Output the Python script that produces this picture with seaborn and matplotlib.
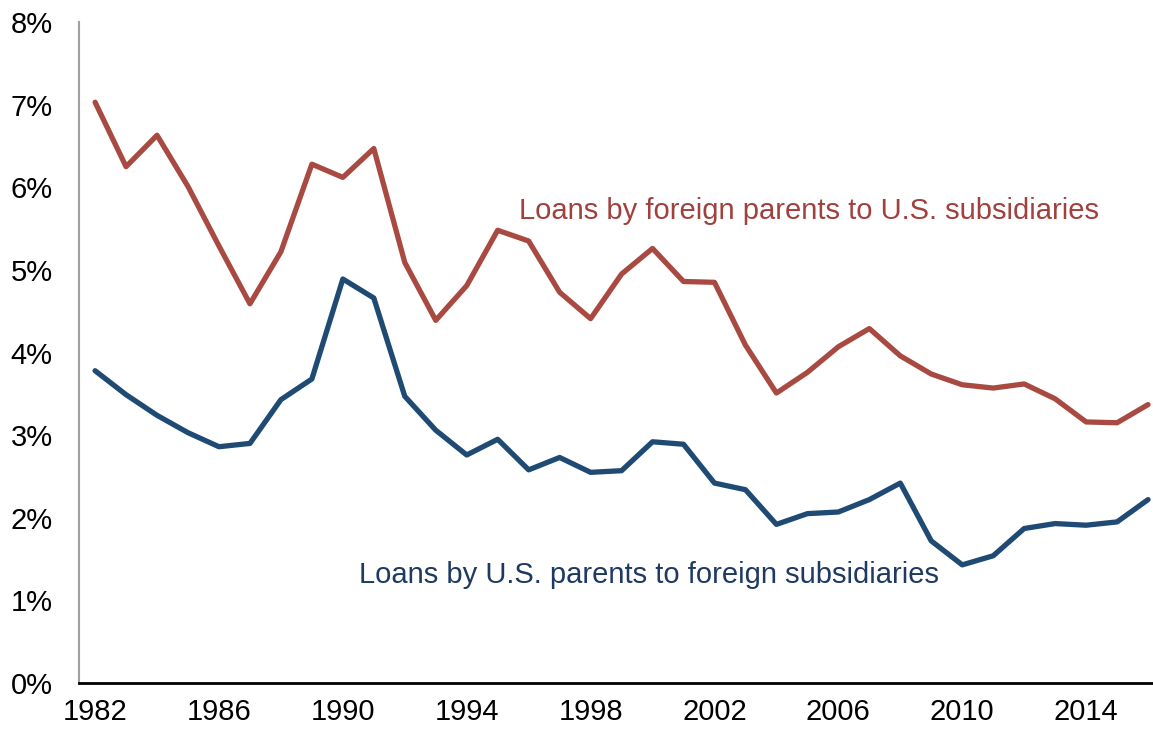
import numpy as np
import pandas as pd
import seaborn as sns
import matplotlib.pyplot as plt
from matplotlib.ticker import FuncFormatter

years = list(range(1982, 2017))

# loans by foreign parents to U.S. subsidiaries (%)
foreign_to_us = [7.03, 6.25, 6.63, 6.01, 5.29, 4.59, 5.22, 6.28, 6.12, 6.47,
                 5.09, 4.39, 4.81, 5.48, 5.35, 4.73, 4.41, 4.95, 5.26, 4.86,
                 4.85, 4.09, 3.51, 3.76, 4.07, 4.29, 3.96, 3.74, 3.61, 3.57,
                 3.62, 3.44, 3.16, 3.15, 3.37]

# loans by U.S. parents to foreign subsidiaries (%)
us_to_foreign = [3.78, 3.49, 3.24, 3.03, 2.86, 2.90, 3.43, 3.68, 4.89, 4.66,
                 3.47, 3.06, 2.76, 2.95, 2.58, 2.73, 2.55, 2.57, 2.92, 2.89,
                 2.42, 2.34, 1.92, 2.05, 2.07, 2.22, 2.42, 1.72, 1.43, 1.54,
                 1.87, 1.93, 1.91, 1.95, 2.22]

red = "#A84A42"
blue = "#1F4A73"

sns.set_style("white")
plt.rcParams["font.family"] = ["Liberation Sans", "DejaVu Sans"]

df = pd.DataFrame({"year": years, "foreign_to_us": foreign_to_us,
                   "us_to_foreign": us_to_foreign})

fig = plt.figure(figsize=(11.53, 7.36), dpi=100)
ax = fig.add_axes([0.0685, 0.072, 0.9315, 0.898])

sns.lineplot(data=df, x="year", y="foreign_to_us", color=red, linewidth=3.8, ax=ax)
sns.lineplot(data=df, x="year", y="us_to_foreign", color=blue, linewidth=3.8, ax=ax)

ax.set_xlim(1981.48, 2016.16)
ax.set_ylim(0, 8)
ax.set_xticks(range(1982, 2017, 4))
ax.set_yticks(range(0, 9))
ax.yaxis.set_major_formatter(FuncFormatter(lambda v, p: f"{int(v)}%"))
ax.tick_params(axis="both", length=0, labelsize=21, colors="black")
ax.tick_params(axis="y", pad=19)
ax.tick_params(axis="x", pad=11)
ax.set_xlabel("")
ax.set_ylabel("")

for side in ["top", "right"]:
    ax.spines[side].set_visible(False)
ax.spines["left"].set_color("#A0A0A0")
ax.spines["left"].set_linewidth(1.5)
ax.spines["bottom"].set_color("black")
ax.spines["bottom"].set_linewidth(2)

ax.text(2005.06, 5.71, "Loans by foreign parents to U.S. subsidiaries",
        color="#A0413E", fontsize=21, ha="center", va="center")
ax.text(1999.9, 1.31, "Loans by U.S. parents to foreign subsidiaries",
        color="#1F3A60", fontsize=21, ha="center", va="center")

fig.savefig("out.png", dpi=100)
